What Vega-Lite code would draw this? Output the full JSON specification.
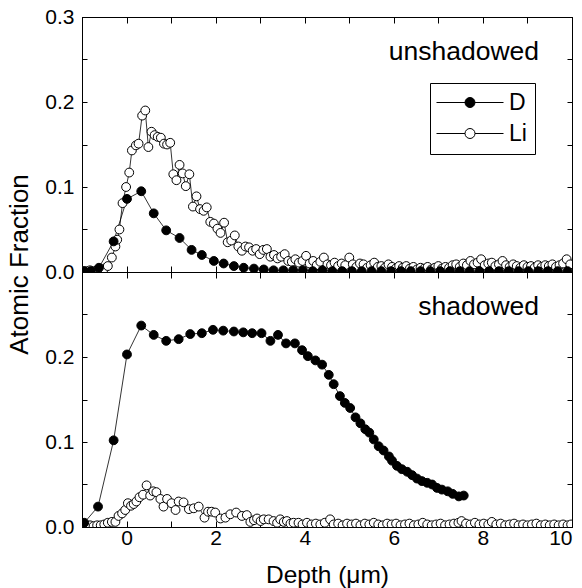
{
  "$schema": "https://vega.github.io/schema/vega-lite/v6.json",
  "autosize": {"type": "pad"},
  "padding": {"left": 5, "top": 5, "right": 5, "bottom": 5},
  "background": "white",
  "config": {
    "font": "Liberation Sans",
    "view": {"stroke": "black", "strokeWidth": 1},
    "axis": {
      "grid": false,
      "domainColor": "black",
      "domainWidth": 1,
      "tickColor": "black",
      "tickWidth": 1,
      "labelColor": "black",
      "titleColor": "black",
      "labelFont": "Liberation Sans",
      "titleFont": "Liberation Sans",
      "labelFontSize": 21,
      "titleFontSize": 24.5,
      "titleFontWeight": "normal"
    },
    "legend": {"labelFont": "Liberation Sans"}
  },
  "datasets": {
    "unshadowed": [
      {"species": "Li", "depth": -0.98, "frac": 0.001}, {"species": "Li", "depth": -0.90, "frac": 0.001}, {"species": "Li", "depth": -0.82, "frac": 0.002}, {"species": "Li", "depth": -0.74, "frac": 0.001},
      {"species": "Li", "depth": -0.66, "frac": 0.002}, {"species": "Li", "depth": -0.58, "frac": 0.003}, {"species": "Li", "depth": -0.50, "frac": 0.004}, {"species": "Li", "depth": -0.42, "frac": 0.007},
      {"species": "Li", "depth": -0.33, "frac": 0.017}, {"species": "Li", "depth": -0.25, "frac": 0.030}, {"species": "Li", "depth": -0.21, "frac": 0.038}, {"species": "Li", "depth": -0.16, "frac": 0.050},
      {"species": "Li", "depth": -0.09, "frac": 0.081}, {"species": "Li", "depth": -0.01, "frac": 0.100}, {"species": "Li", "depth": 0.06, "frac": 0.117}, {"species": "Li", "depth": 0.12, "frac": 0.143},
      {"species": "Li", "depth": 0.21, "frac": 0.149}, {"species": "Li", "depth": 0.27, "frac": 0.151}, {"species": "Li", "depth": 0.35, "frac": 0.184}, {"species": "Li", "depth": 0.42, "frac": 0.190},
      {"species": "Li", "depth": 0.49, "frac": 0.147}, {"species": "Li", "depth": 0.56, "frac": 0.165}, {"species": "Li", "depth": 0.63, "frac": 0.161}, {"species": "Li", "depth": 0.70, "frac": 0.159},
      {"species": "Li", "depth": 0.77, "frac": 0.158}, {"species": "Li", "depth": 0.84, "frac": 0.151}, {"species": "Li", "depth": 0.91, "frac": 0.150}, {"species": "Li", "depth": 0.98, "frac": 0.152},
      {"species": "Li", "depth": 1.05, "frac": 0.115}, {"species": "Li", "depth": 1.12, "frac": 0.108}, {"species": "Li", "depth": 1.19, "frac": 0.126}, {"species": "Li", "depth": 1.26, "frac": 0.116},
      {"species": "Li", "depth": 1.33, "frac": 0.101}, {"species": "Li", "depth": 1.41, "frac": 0.115}, {"species": "Li", "depth": 1.49, "frac": 0.077}, {"species": "Li", "depth": 1.57, "frac": 0.089},
      {"species": "Li", "depth": 1.65, "frac": 0.074}, {"species": "Li", "depth": 1.73, "frac": 0.072}, {"species": "Li", "depth": 1.80, "frac": 0.076}, {"species": "Li", "depth": 1.88, "frac": 0.059},
      {"species": "Li", "depth": 1.96, "frac": 0.057}, {"species": "Li", "depth": 2.04, "frac": 0.051}, {"species": "Li", "depth": 2.11, "frac": 0.046}, {"species": "Li", "depth": 2.19, "frac": 0.058},
      {"species": "Li", "depth": 2.27, "frac": 0.035}, {"species": "Li", "depth": 2.35, "frac": 0.037}, {"species": "Li", "depth": 2.43, "frac": 0.043}, {"species": "Li", "depth": 2.51, "frac": 0.030},
      {"species": "Li", "depth": 2.59, "frac": 0.025}, {"species": "Li", "depth": 2.67, "frac": 0.030}, {"species": "Li", "depth": 2.75, "frac": 0.029}, {"species": "Li", "depth": 2.83, "frac": 0.025},
      {"species": "Li", "depth": 2.91, "frac": 0.027}, {"species": "Li", "depth": 2.99, "frac": 0.021}, {"species": "Li", "depth": 3.07, "frac": 0.026}, {"species": "Li", "depth": 3.15, "frac": 0.027},
      {"species": "Li", "depth": 3.23, "frac": 0.018}, {"species": "Li", "depth": 3.31, "frac": 0.020}, {"species": "Li", "depth": 3.39, "frac": 0.016}, {"species": "Li", "depth": 3.47, "frac": 0.018},
      {"species": "Li", "depth": 3.55, "frac": 0.021}, {"species": "Li", "depth": 3.63, "frac": 0.013}, {"species": "Li", "depth": 3.71, "frac": 0.012}, {"species": "Li", "depth": 3.79, "frac": 0.015},
      {"species": "Li", "depth": 3.87, "frac": 0.011}, {"species": "Li", "depth": 3.95, "frac": 0.013}, {"species": "Li", "depth": 4.03, "frac": 0.019}, {"species": "Li", "depth": 4.11, "frac": 0.010},
      {"species": "Li", "depth": 4.19, "frac": 0.013}, {"species": "Li", "depth": 4.27, "frac": 0.008}, {"species": "Li", "depth": 4.35, "frac": 0.012}, {"species": "Li", "depth": 4.43, "frac": 0.017},
      {"species": "Li", "depth": 4.51, "frac": 0.009}, {"species": "Li", "depth": 4.59, "frac": 0.008}, {"species": "Li", "depth": 4.67, "frac": 0.011}, {"species": "Li", "depth": 4.75, "frac": 0.007},
      {"species": "Li", "depth": 4.83, "frac": 0.010}, {"species": "Li", "depth": 4.91, "frac": 0.008}, {"species": "Li", "depth": 5.00, "frac": 0.017}, {"species": "Li", "depth": 5.08, "frac": 0.009},
      {"species": "Li", "depth": 5.16, "frac": 0.006}, {"species": "Li", "depth": 5.24, "frac": 0.010}, {"species": "Li", "depth": 5.32, "frac": 0.009}, {"species": "Li", "depth": 5.40, "frac": 0.005},
      {"species": "Li", "depth": 5.48, "frac": 0.008}, {"species": "Li", "depth": 5.56, "frac": 0.011}, {"species": "Li", "depth": 5.64, "frac": 0.006}, {"species": "Li", "depth": 5.72, "frac": 0.007},
      {"species": "Li", "depth": 5.80, "frac": 0.005}, {"species": "Li", "depth": 5.88, "frac": 0.009}, {"species": "Li", "depth": 5.96, "frac": 0.006}, {"species": "Li", "depth": 6.04, "frac": 0.004},
      {"species": "Li", "depth": 6.12, "frac": 0.007}, {"species": "Li", "depth": 6.20, "frac": 0.005}, {"species": "Li", "depth": 6.28, "frac": 0.007}, {"species": "Li", "depth": 6.36, "frac": 0.004},
      {"species": "Li", "depth": 6.44, "frac": 0.006}, {"species": "Li", "depth": 6.52, "frac": 0.003}, {"species": "Li", "depth": 6.60, "frac": 0.005}, {"species": "Li", "depth": 6.68, "frac": 0.004},
      {"species": "Li", "depth": 6.76, "frac": 0.006}, {"species": "Li", "depth": 6.84, "frac": 0.003}, {"species": "Li", "depth": 6.92, "frac": 0.005}, {"species": "Li", "depth": 7.00, "frac": 0.007},
      {"species": "Li", "depth": 7.08, "frac": 0.004}, {"species": "Li", "depth": 7.16, "frac": 0.006}, {"species": "Li", "depth": 7.24, "frac": 0.005}, {"species": "Li", "depth": 7.32, "frac": 0.008},
      {"species": "Li", "depth": 7.40, "frac": 0.009}, {"species": "Li", "depth": 7.48, "frac": 0.006}, {"species": "Li", "depth": 7.56, "frac": 0.010}, {"species": "Li", "depth": 7.64, "frac": 0.008},
      {"species": "Li", "depth": 7.72, "frac": 0.013}, {"species": "Li", "depth": 7.80, "frac": 0.009}, {"species": "Li", "depth": 7.88, "frac": 0.011}, {"species": "Li", "depth": 7.96, "frac": 0.015},
      {"species": "Li", "depth": 8.04, "frac": 0.008}, {"species": "Li", "depth": 8.12, "frac": 0.010}, {"species": "Li", "depth": 8.20, "frac": 0.011}, {"species": "Li", "depth": 8.28, "frac": 0.007},
      {"species": "Li", "depth": 8.36, "frac": 0.009}, {"species": "Li", "depth": 8.44, "frac": 0.013}, {"species": "Li", "depth": 8.52, "frac": 0.008}, {"species": "Li", "depth": 8.60, "frac": 0.006},
      {"species": "Li", "depth": 8.68, "frac": 0.009}, {"species": "Li", "depth": 8.76, "frac": 0.007}, {"species": "Li", "depth": 8.84, "frac": 0.005}, {"species": "Li", "depth": 8.92, "frac": 0.008},
      {"species": "Li", "depth": 9.00, "frac": 0.006}, {"species": "Li", "depth": 9.08, "frac": 0.007}, {"species": "Li", "depth": 9.16, "frac": 0.005}, {"species": "Li", "depth": 9.24, "frac": 0.008},
      {"species": "Li", "depth": 9.32, "frac": 0.006}, {"species": "Li", "depth": 9.40, "frac": 0.008}, {"species": "Li", "depth": 9.48, "frac": 0.007}, {"species": "Li", "depth": 9.56, "frac": 0.009},
      {"species": "Li", "depth": 9.64, "frac": 0.006}, {"species": "Li", "depth": 9.72, "frac": 0.008}, {"species": "Li", "depth": 9.80, "frac": 0.010}, {"species": "Li", "depth": 9.88, "frac": 0.015},
      {"species": "Li", "depth": 9.96, "frac": 0.009},
      {"species": "D", "depth": -0.95, "frac": 0.001}, {"species": "D", "depth": -0.80, "frac": 0.001}, {"species": "D", "depth": -0.62, "frac": 0.005}, {"species": "D", "depth": -0.29, "frac": 0.036},
      {"species": "D", "depth": 0.01, "frac": 0.086}, {"species": "D", "depth": 0.33, "frac": 0.095}, {"species": "D", "depth": 0.61, "frac": 0.069}, {"species": "D", "depth": 0.89, "frac": 0.049},
      {"species": "D", "depth": 1.19, "frac": 0.040}, {"species": "D", "depth": 1.46, "frac": 0.026}, {"species": "D", "depth": 1.69, "frac": 0.020}, {"species": "D", "depth": 1.96, "frac": 0.013},
      {"species": "D", "depth": 2.18, "frac": 0.010}, {"species": "D", "depth": 2.41, "frac": 0.007}, {"species": "D", "depth": 2.63, "frac": 0.005}, {"species": "D", "depth": 2.86, "frac": 0.004},
      {"species": "D", "depth": 3.08, "frac": 0.003}, {"species": "D", "depth": 3.30, "frac": 0.002}, {"species": "D", "depth": 3.52, "frac": 0.002}, {"species": "D", "depth": 3.74, "frac": 0.002},
      {"species": "D", "depth": 3.96, "frac": 0.002}, {"species": "D", "depth": 4.18, "frac": 0.001}, {"species": "D", "depth": 4.40, "frac": 0.002}, {"species": "D", "depth": 4.62, "frac": 0.001},
      {"species": "D", "depth": 4.84, "frac": 0.001}, {"species": "D", "depth": 5.06, "frac": 0.001}, {"species": "D", "depth": 5.28, "frac": 0.001}, {"species": "D", "depth": 5.50, "frac": 0.001},
      {"species": "D", "depth": 5.72, "frac": 0.001}, {"species": "D", "depth": 5.94, "frac": 0.001}, {"species": "D", "depth": 6.16, "frac": 0.001}, {"species": "D", "depth": 6.38, "frac": 0.001},
      {"species": "D", "depth": 6.60, "frac": 0.001}, {"species": "D", "depth": 6.82, "frac": 0.001}, {"species": "D", "depth": 7.04, "frac": 0.001}, {"species": "D", "depth": 7.26, "frac": 0.001},
      {"species": "D", "depth": 7.48, "frac": 0.001}, {"species": "D", "depth": 7.70, "frac": 0.001}, {"species": "D", "depth": 7.92, "frac": 0.001}, {"species": "D", "depth": 8.14, "frac": 0.001},
      {"species": "D", "depth": 8.36, "frac": 0.001}, {"species": "D", "depth": 8.58, "frac": 0.001}, {"species": "D", "depth": 8.80, "frac": 0.001}, {"species": "D", "depth": 9.02, "frac": 0.001},
      {"species": "D", "depth": 9.24, "frac": 0.001}, {"species": "D", "depth": 9.46, "frac": 0.001}, {"species": "D", "depth": 9.68, "frac": 0.001}, {"species": "D", "depth": 9.90, "frac": 0.001}
    ],
    "shadowed": [
      {"species": "Li", "depth": -0.98, "frac": 0.002}, {"species": "Li", "depth": -0.90, "frac": 0.001}, {"species": "Li", "depth": -0.82, "frac": 0.002}, {"species": "Li", "depth": -0.74, "frac": 0.001},
      {"species": "Li", "depth": -0.66, "frac": 0.002}, {"species": "Li", "depth": -0.58, "frac": 0.002}, {"species": "Li", "depth": -0.50, "frac": 0.003}, {"species": "Li", "depth": -0.42, "frac": 0.005},
      {"species": "Li", "depth": -0.33, "frac": 0.006}, {"species": "Li", "depth": -0.25, "frac": 0.006}, {"species": "Li", "depth": -0.18, "frac": 0.013}, {"species": "Li", "depth": -0.10, "frac": 0.016},
      {"species": "Li", "depth": -0.03, "frac": 0.020}, {"species": "Li", "depth": 0.03, "frac": 0.028}, {"species": "Li", "depth": 0.10, "frac": 0.025}, {"species": "Li", "depth": 0.16, "frac": 0.027},
      {"species": "Li", "depth": 0.22, "frac": 0.030}, {"species": "Li", "depth": 0.29, "frac": 0.035}, {"species": "Li", "depth": 0.37, "frac": 0.038}, {"species": "Li", "depth": 0.45, "frac": 0.049},
      {"species": "Li", "depth": 0.53, "frac": 0.037}, {"species": "Li", "depth": 0.60, "frac": 0.042}, {"species": "Li", "depth": 0.67, "frac": 0.041}, {"species": "Li", "depth": 0.76, "frac": 0.033},
      {"species": "Li", "depth": 0.83, "frac": 0.024}, {"species": "Li", "depth": 0.91, "frac": 0.033}, {"species": "Li", "depth": 1.01, "frac": 0.028}, {"species": "Li", "depth": 1.10, "frac": 0.020},
      {"species": "Li", "depth": 1.17, "frac": 0.030}, {"species": "Li", "depth": 1.28, "frac": 0.029}, {"species": "Li", "depth": 1.40, "frac": 0.021}, {"species": "Li", "depth": 1.51, "frac": 0.022},
      {"species": "Li", "depth": 1.62, "frac": 0.024}, {"species": "Li", "depth": 1.75, "frac": 0.011}, {"species": "Li", "depth": 1.83, "frac": 0.018}, {"species": "Li", "depth": 1.91, "frac": 0.018},
      {"species": "Li", "depth": 1.99, "frac": 0.017}, {"species": "Li", "depth": 2.11, "frac": 0.010}, {"species": "Li", "depth": 2.22, "frac": 0.011}, {"species": "Li", "depth": 2.33, "frac": 0.015},
      {"species": "Li", "depth": 2.46, "frac": 0.017}, {"species": "Li", "depth": 2.59, "frac": 0.013}, {"species": "Li", "depth": 2.70, "frac": 0.014}, {"species": "Li", "depth": 2.78, "frac": 0.006},
      {"species": "Li", "depth": 2.86, "frac": 0.008}, {"species": "Li", "depth": 2.93, "frac": 0.010}, {"species": "Li", "depth": 3.01, "frac": 0.007}, {"species": "Li", "depth": 3.08, "frac": 0.009},
      {"species": "Li", "depth": 3.19, "frac": 0.009}, {"species": "Li", "depth": 3.30, "frac": 0.007}, {"species": "Li", "depth": 3.38, "frac": 0.005}, {"species": "Li", "depth": 3.45, "frac": 0.009},
      {"species": "Li", "depth": 3.53, "frac": 0.006}, {"species": "Li", "depth": 3.60, "frac": 0.007}, {"species": "Li", "depth": 3.68, "frac": 0.004}, {"species": "Li", "depth": 3.75, "frac": 0.005},
      {"species": "Li", "depth": 3.86, "frac": 0.005}, {"species": "Li", "depth": 3.95, "frac": 0.003}, {"species": "Li", "depth": 4.05, "frac": 0.005}, {"species": "Li", "depth": 4.15, "frac": 0.003},
      {"species": "Li", "depth": 4.25, "frac": 0.004}, {"species": "Li", "depth": 4.35, "frac": 0.003}, {"species": "Li", "depth": 4.45, "frac": 0.005}, {"species": "Li", "depth": 4.57, "frac": 0.009},
      {"species": "Li", "depth": 4.65, "frac": 0.003}, {"species": "Li", "depth": 4.75, "frac": 0.004}, {"species": "Li", "depth": 4.85, "frac": 0.002}, {"species": "Li", "depth": 4.95, "frac": 0.004},
      {"species": "Li", "depth": 5.05, "frac": 0.003}, {"species": "Li", "depth": 5.15, "frac": 0.004}, {"species": "Li", "depth": 5.25, "frac": 0.002}, {"species": "Li", "depth": 5.35, "frac": 0.004},
      {"species": "Li", "depth": 5.45, "frac": 0.003}, {"species": "Li", "depth": 5.55, "frac": 0.005}, {"species": "Li", "depth": 5.65, "frac": 0.003}, {"species": "Li", "depth": 5.75, "frac": 0.002},
      {"species": "Li", "depth": 5.85, "frac": 0.004}, {"species": "Li", "depth": 5.95, "frac": 0.003}, {"species": "Li", "depth": 6.05, "frac": 0.004}, {"species": "Li", "depth": 6.15, "frac": 0.002},
      {"species": "Li", "depth": 6.25, "frac": 0.003}, {"species": "Li", "depth": 6.35, "frac": 0.004}, {"species": "Li", "depth": 6.45, "frac": 0.002}, {"species": "Li", "depth": 6.55, "frac": 0.003},
      {"species": "Li", "depth": 6.65, "frac": 0.005}, {"species": "Li", "depth": 6.75, "frac": 0.003}, {"species": "Li", "depth": 6.85, "frac": 0.002}, {"species": "Li", "depth": 6.95, "frac": 0.003},
      {"species": "Li", "depth": 7.05, "frac": 0.004}, {"species": "Li", "depth": 7.15, "frac": 0.002}, {"species": "Li", "depth": 7.25, "frac": 0.003}, {"species": "Li", "depth": 7.35, "frac": 0.004},
      {"species": "Li", "depth": 7.45, "frac": 0.005}, {"species": "Li", "depth": 7.52, "frac": 0.007}, {"species": "Li", "depth": 7.62, "frac": 0.004}, {"species": "Li", "depth": 7.72, "frac": 0.003},
      {"species": "Li", "depth": 7.82, "frac": 0.005}, {"species": "Li", "depth": 7.92, "frac": 0.003}, {"species": "Li", "depth": 8.02, "frac": 0.004}, {"species": "Li", "depth": 8.12, "frac": 0.003},
      {"species": "Li", "depth": 8.20, "frac": 0.006}, {"species": "Li", "depth": 8.30, "frac": 0.003}, {"species": "Li", "depth": 8.40, "frac": 0.004}, {"species": "Li", "depth": 8.50, "frac": 0.002},
      {"species": "Li", "depth": 8.60, "frac": 0.003}, {"species": "Li", "depth": 8.70, "frac": 0.004}, {"species": "Li", "depth": 8.80, "frac": 0.002}, {"species": "Li", "depth": 8.90, "frac": 0.003},
      {"species": "Li", "depth": 9.00, "frac": 0.002}, {"species": "Li", "depth": 9.10, "frac": 0.003}, {"species": "Li", "depth": 9.20, "frac": 0.004}, {"species": "Li", "depth": 9.30, "frac": 0.002},
      {"species": "Li", "depth": 9.40, "frac": 0.003}, {"species": "Li", "depth": 9.50, "frac": 0.002}, {"species": "Li", "depth": 9.60, "frac": 0.003}, {"species": "Li", "depth": 9.70, "frac": 0.002},
      {"species": "Li", "depth": 9.80, "frac": 0.003}, {"species": "Li", "depth": 9.90, "frac": 0.002}, {"species": "Li", "depth": 9.98, "frac": 0.003},
      {"species": "D", "depth": -0.95, "frac": 0.005}, {"species": "D", "depth": -0.64, "frac": 0.024}, {"species": "D", "depth": -0.29, "frac": 0.102}, {"species": "D", "depth": 0.01, "frac": 0.203},
      {"species": "D", "depth": 0.33, "frac": 0.237}, {"species": "D", "depth": 0.61, "frac": 0.226}, {"species": "D", "depth": 0.89, "frac": 0.219}, {"species": "D", "depth": 1.17, "frac": 0.221},
      {"species": "D", "depth": 1.43, "frac": 0.227}, {"species": "D", "depth": 1.69, "frac": 0.228}, {"species": "D", "depth": 1.94, "frac": 0.232}, {"species": "D", "depth": 2.17, "frac": 0.231},
      {"species": "D", "depth": 2.41, "frac": 0.230}, {"species": "D", "depth": 2.62, "frac": 0.229}, {"species": "D", "depth": 2.82, "frac": 0.228}, {"species": "D", "depth": 3.03, "frac": 0.228},
      {"species": "D", "depth": 3.23, "frac": 0.219}, {"species": "D", "depth": 3.40, "frac": 0.226}, {"species": "D", "depth": 3.58, "frac": 0.216}, {"species": "D", "depth": 3.78, "frac": 0.216},
      {"species": "D", "depth": 3.94, "frac": 0.208}, {"species": "D", "depth": 4.07, "frac": 0.201}, {"species": "D", "depth": 4.24, "frac": 0.196}, {"species": "D", "depth": 4.39, "frac": 0.191},
      {"species": "D", "depth": 4.54, "frac": 0.179}, {"species": "D", "depth": 4.65, "frac": 0.168}, {"species": "D", "depth": 4.79, "frac": 0.154}, {"species": "D", "depth": 4.90, "frac": 0.146},
      {"species": "D", "depth": 5.02, "frac": 0.140}, {"species": "D", "depth": 5.14, "frac": 0.129}, {"species": "D", "depth": 5.25, "frac": 0.122}, {"species": "D", "depth": 5.36, "frac": 0.115},
      {"species": "D", "depth": 5.45, "frac": 0.111}, {"species": "D", "depth": 5.55, "frac": 0.103}, {"species": "D", "depth": 5.66, "frac": 0.095}, {"species": "D", "depth": 5.77, "frac": 0.090},
      {"species": "D", "depth": 5.89, "frac": 0.083}, {"species": "D", "depth": 5.96, "frac": 0.078}, {"species": "D", "depth": 6.07, "frac": 0.072}, {"species": "D", "depth": 6.18, "frac": 0.068},
      {"species": "D", "depth": 6.30, "frac": 0.065}, {"species": "D", "depth": 6.41, "frac": 0.061}, {"species": "D", "depth": 6.52, "frac": 0.057}, {"species": "D", "depth": 6.63, "frac": 0.054},
      {"species": "D", "depth": 6.75, "frac": 0.052}, {"species": "D", "depth": 6.86, "frac": 0.050}, {"species": "D", "depth": 6.97, "frac": 0.046}, {"species": "D", "depth": 7.08, "frac": 0.044},
      {"species": "D", "depth": 7.21, "frac": 0.042}, {"species": "D", "depth": 7.32, "frac": 0.039}, {"species": "D", "depth": 7.46, "frac": 0.036}, {"species": "D", "depth": 7.57, "frac": 0.037}
    ]
  },
  "spacing": 0,
  "bounds": "flush",
  "resolve": {"scale": {"fill": "independent"}, "legend": {"fill": "independent"}},
  "vconcat": [
    {
      "width": 490,
      "height": 255,
      "data": {"name": "unshadowed"},
      "layer": [
        {
          "mark": {"type": "line", "color": "black", "strokeWidth": 0.8, "clip": true},
          "encoding": {
            "x": {"field": "depth", "type": "quantitative", "scale": {"domain": [-1, 10], "nice": false, "zero": false},
              "axis": {"orient": "bottom", "values": [-1, 0, 1, 2, 3, 4, 5, 6, 7, 8, 9, 10], "labels": false, "tickSize": -6, "title": null}},
            "y": {"field": "frac", "type": "quantitative", "scale": {"domain": [0, 0.3], "nice": false, "zero": false},
              "axis": {"orient": "left", "values": [0, 0.05, 0.1, 0.15, 0.2, 0.25, 0.3], "tickSize": -5, "labelPadding": 13, "title": null,
                "labelExpr": "abs(datum.value*10-round(datum.value*10))<0.01 ? format(datum.value,'.1f') : ''"}},
            "detail": {"field": "species"}
          }
        },
        {
          "mark": {"type": "circle", "size": 78, "stroke": "black", "strokeWidth": 1, "opacity": 1, "clip": true},
          "encoding": {
            "x": {"field": "depth", "type": "quantitative", "scale": {"domain": [-1, 10], "nice": false, "zero": false},
              "axis": {"orient": "top", "values": [-1, 0, 1, 2, 3, 4, 5, 6, 7, 8, 9, 10], "labels": false, "tickSize": -6, "title": null}},
            "y": {"field": "frac", "type": "quantitative", "scale": {"domain": [0, 0.3], "nice": false, "zero": false},
              "axis": {"orient": "right", "values": [0, 0.05, 0.1, 0.15, 0.2, 0.25, 0.3], "labels": false, "tickSize": -5, "title": null}},
            "fill": {"field": "species", "type": "nominal", "scale": {"domain": ["D", "Li"], "range": ["black", "white"]},
              "legend": {"title": null, "orient": "none", "legendX": 348, "legendY": 66,
                "symbolType": "M-2.6,0H3.1M5.1,0H10.8M3.1,0A1,1,0,1,1,5.1,0A1,1,0,1,1,3.1,0Z",
                "symbolSize": 100, "symbolStrokeColor": "black", "symbolStrokeWidth": 1,
                "labelFontSize": 23, "labelColor": "black", "labelOffset": 48,
                "strokeColor": "black", "padding": 8, "rowPadding": 7}}
          }
        },
        {
          "data": {"values": [{"panel": "unshadowed"}]},
          "mark": {"type": "text", "align": "right", "baseline": "alphabetic", "fontSize": 26.5, "color": "black", "font": "Liberation Sans"},
          "encoding": {
            "x": {"datum": 9.26, "type": "quantitative", "axis": null},
            "y": {"datum": 0.25, "type": "quantitative", "axis": null},
            "text": {"field": "panel"}
          }
        }
      ],
      "resolve": {"axis": {"x": "independent", "y": "independent"}}
    },
    {
      "width": 490,
      "height": 255,
      "data": {"name": "shadowed"},
      "layer": [
        {
          "mark": {"type": "line", "color": "black", "strokeWidth": 0.8, "clip": true},
          "encoding": {
            "x": {"field": "depth", "type": "quantitative", "scale": {"domain": [-1, 10], "nice": false, "zero": false},
              "axis": {"orient": "bottom", "values": [-1, 0, 1, 2, 3, 4, 5, 6, 7, 8, 9, 10], "tickSize": -6, "labelPadding": 6,
                "labelExpr": "datum.value >= 0 && datum.value % 2 == 0 ? format(datum.value, 'd') : ''",
                "title": "Depth (μm)", "titleY": 55, "titleBaseline": "alphabetic"}},
            "y": {"field": "frac", "type": "quantitative", "scale": {"domain": [0, 0.3], "nice": false, "zero": false},
              "axis": {"orient": "left", "values": [0, 0.05, 0.1, 0.15, 0.2, 0.25], "tickSize": -5, "labelPadding": 13,
                "labelExpr": "abs(datum.value*10-round(datum.value*10))<0.01 ? format(datum.value,'.1f') : ''",
                "title": "Atomic Fraction", "titleFontSize": 26, "titleX": -63, "titleY": -8, "titleAlign": "center", "titleBaseline": "middle", "titleAngle": -90}},
            "detail": {"field": "species"}
          }
        },
        {
          "mark": {"type": "circle", "size": 78, "stroke": "black", "strokeWidth": 1, "opacity": 1, "clip": true},
          "encoding": {
            "x": {"field": "depth", "type": "quantitative", "scale": {"domain": [-1, 10], "nice": false, "zero": false},
              "axis": {"orient": "top", "values": [-1, 0, 1, 2, 3, 4, 5, 6, 7, 8, 9, 10], "labels": false, "tickSize": -6, "title": null}},
            "y": {"field": "frac", "type": "quantitative", "scale": {"domain": [0, 0.3], "nice": false, "zero": false},
              "axis": {"orient": "right", "values": [0, 0.05, 0.1, 0.15, 0.2, 0.25, 0.3], "labels": false, "tickSize": -5, "title": null}},
            "fill": {"field": "species", "type": "nominal", "scale": {"domain": ["D", "Li"], "range": ["black", "white"]}, "legend": null}
          }
        },
        {
          "data": {"values": [{"panel": "shadowed"}]},
          "mark": {"type": "text", "align": "right", "baseline": "alphabetic", "fontSize": 26.5, "color": "black", "font": "Liberation Sans"},
          "encoding": {
            "x": {"datum": 9.26, "type": "quantitative", "axis": null},
            "y": {"datum": 0.25, "type": "quantitative", "axis": null},
            "text": {"field": "panel"}
          }
        }
      ],
      "resolve": {"axis": {"x": "independent", "y": "independent"}}
    }
  ]
}
